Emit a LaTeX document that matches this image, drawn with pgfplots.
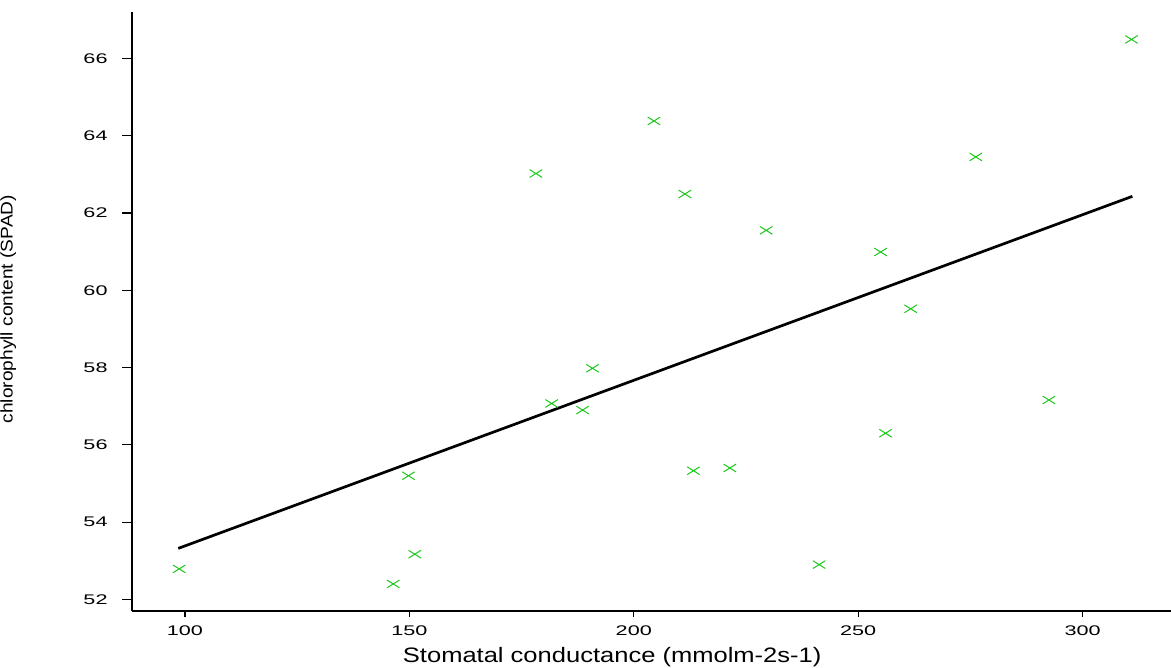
\documentclass[border=0pt]{standalone}
\usepackage{fontspec}
\setmainfont{Liberation Sans}
\usepackage{pgfplots}
\pgfplotsset{compat=1.18}
\definecolor{markgreen}{RGB}{25,200,25}
\begin{document}
\begin{tikzpicture}
\path[use as bounding box] (-132.3bp,-57bp) rectangle (1038.7bp,611bp);
\begin{axis}[
  at={(0,0)}, anchor=south west,
  scale only axis,
  width=1038.7bp, height=599bp,
  xmin=88.26, xmax=319.7,
  ymin=51.70, ymax=67.20,
  axis x line*=bottom, axis y line*=left,
  axis line style={line width=2bp, black},
  tick align=outside,
  major tick length=10bp,
  tick style={line width=1.2bp, black},
  xtick style={/pgfplots/major tick length=6.5bp},
  xtick={100,150,200,250,300},
  ytick={52,54,56,58,60,62,64,66},
  /pgf/number format/assume math mode=true,
  ticklabel style={font=\fontsize{14}{16}\selectfont, xscale=1.55},
  y tick label style={xshift=-6bp},
  x tick label style={yshift=-1bp},
  xlabel={Stomatal conductance (mmolm-2s-1)},
  ylabel={chlorophyll content (SPAD)},
  xlabel style={at={(axis description cs:0.462,0)}, anchor=base, yshift=-51bp, font=\fontsize{21}{24}\selectfont, xscale=1.22},
  ylabel style={at={(axis description cs:-0.1194,0.504)}, anchor=center, font=\fontsize{17}{19}\selectfont, xscale=1.13},
  clip=false,
]
\addplot[only marks, mark=x, mark size=5.5bp, mark options={xscale=1.6, line width=1bp, color=markgreen}] coordinates {
(98.7,52.79) (146.4,52.40) (149.8,55.20) (151.2,53.17) (181.7,57.07)
(188.6,56.90) (190.8,57.98) (213.3,55.33) (221.4,55.40) (178.2,63.02)
(204.5,64.38) (211.4,62.49) (229.5,61.55) (310.9,66.49) (276.2,63.45)
(255.0,60.99) (261.7,59.52) (241.3,52.90) (256.1,56.30) (292.5,57.16)
};
\addplot[black, line width=2.7bp, no marks] coordinates {(98.5,53.32) (311.1,62.43)};
\end{axis}
\end{tikzpicture}
\end{document}
